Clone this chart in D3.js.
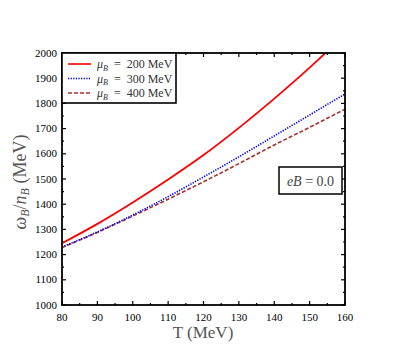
<!DOCTYPE html>
<html><head><meta charset="utf-8">
<script src="https://cdn.jsdelivr.net/npm/d3@7"></script>
<style>body{margin:0;background:#fff}svg{display:block}</style>
</head><body>
<svg id="c" width="407" height="362"></svg>
<script>
const T = [80, 90, 100, 110, 120, 130, 140, 150, 155, 160];
const mu200 = [1245, 1322, 1407, 1498, 1595, 1703, 1819, 1942, 2007, 2075];
const mu300 = [1230, 1290, 1357, 1430, 1508, 1588, 1671, 1754, 1796, 1837];
const mu400 = [1228, 1288, 1353, 1420, 1489, 1561, 1635, 1705, 1741, 1777];
const xTicks = [80, 90, 100, 110, 120, 130, 140, 150, 160];
const yTicks = [1000, 1100, 1200, 1300, 1400, 1500, 1600, 1700, 1800, 1900, 2000];
const seriesNames = ["200", "300", "400"];

const svg = d3.select("#c");
const L = 62, R = 345, Tp = 53, B = 305;
const x = d3.scaleLinear().domain([80, 160]).range([L, R]);
const y = d3.scaleLinear().domain([1000, 2000]).range([B, Tp]);
const font = "'Liberation Serif', 'Times New Roman', serif";

svg.append("clipPath").attr("id", "clip").append("rect")
  .attr("x", L).attr("y", Tp).attr("width", R - L).attr("height", B - Tp);

// ticks
const minorX = d3.range(85, 160, 10);
const minorY = d3.range(1050, 2000, 100);
const tk = svg.append("g").attr("stroke", "#000").attr("stroke-width", 1.2);
xTicks.forEach(v => {
  tk.append("line").attr("x1", x(v)).attr("x2", x(v)).attr("y1", B).attr("y2", B - 4);
  tk.append("line").attr("x1", x(v)).attr("x2", x(v)).attr("y1", Tp).attr("y2", Tp + 4);
});
minorX.forEach(v => {
  tk.append("line").attr("x1", x(v)).attr("x2", x(v)).attr("y1", B).attr("y2", B - 2);
  tk.append("line").attr("x1", x(v)).attr("x2", x(v)).attr("y1", Tp).attr("y2", Tp + 2);
});
yTicks.forEach(v => {
  tk.append("line").attr("x1", L).attr("x2", L + 4).attr("y1", y(v)).attr("y2", y(v));
  tk.append("line").attr("x1", R).attr("x2", R - 4).attr("y1", y(v)).attr("y2", y(v));
});
minorY.forEach(v => {
  tk.append("line").attr("x1", L).attr("x2", L + 2).attr("y1", y(v)).attr("y2", y(v));
  tk.append("line").attr("x1", R).attr("x2", R - 2).attr("y1", y(v)).attr("y2", y(v));
});

// tick labels
svg.append("g").selectAll("text").data(xTicks).join("text")
  .attr("x", d => x(d)).attr("y", 321).attr("text-anchor", "middle")
  .attr("font-family", font).attr("font-size", 11).text(d => d);
svg.append("g").selectAll("text").data(yTicks).join("text")
  .attr("x", 57).attr("y", d => y(d) + 3.5).attr("text-anchor", "end")
  .attr("font-family", font).attr("font-size", 11).text(d => d);

// lines
const line = d3.line().x((d, i) => x(T[i])).y(d => y(d)).curve(d3.curveMonotoneX);
const g = svg.append("g").attr("clip-path", "url(#clip)").attr("fill", "none");
g.append("path").datum(mu400).attr("d", line).attr("stroke", "#a83030").attr("stroke-width", 1.6).attr("stroke-dasharray", "4,2");
g.append("path").datum(mu300).attr("d", line).attr("stroke", "#0000ff").attr("stroke-width", 1.6).attr("stroke-dasharray", "1.3,1.3");
g.append("path").datum(mu200).attr("d", line).attr("stroke", "#ff0000").attr("stroke-width", 1.8);

// frame
svg.append("rect").attr("x", L).attr("y", Tp).attr("width", R - L).attr("height", B - Tp)
  .attr("fill", "none").attr("stroke", "#000").attr("stroke-width", 1.8);

// legend
svg.append("rect").attr("x", L).attr("y", Tp).attr("width", 114).attr("height", 50)
  .attr("fill", "#fff").attr("stroke", "#000").attr("stroke-width", 1.6);
const legStyles = [
  {c: "#ff0000", d: null},
  {c: "#0000ff", d: "1.3,1.3"},
  {c: "#a83030", d: "4,2"}
];
seriesNames.forEach((s, i) => {
  const yy = 64 + i * 14.5;
  const ln = svg.append("line").attr("x1", 68).attr("x2", 91).attr("y1", yy).attr("y2", yy)
    .attr("stroke", legStyles[i].c).attr("stroke-width", 1.6);
  if (legStyles[i].d) ln.attr("stroke-dasharray", legStyles[i].d);
  const t = svg.append("text").attr("x", 97).attr("y", yy + 4)
    .attr("font-family", font).attr("font-size", 12).attr("fill", "#333");
  t.append("tspan").attr("font-style", "italic").text("μ");
  t.append("tspan").attr("font-style", "italic").attr("font-size", 8).attr("dy", 2.5).text("B");
  t.append("tspan").attr("dy", -2.5).text("\u2002=\u2002" + s + " MeV");
});

// eB box
svg.append("rect").attr("x", 279).attr("y", 167).attr("width", 63).attr("height", 27)
  .attr("fill", "#fff").attr("stroke", "#000").attr("stroke-width", 1.5);
const eb = svg.append("text").attr("x", 310.5).attr("y", 185.5).attr("text-anchor", "middle")
  .attr("font-family", font).attr("font-size", 14).attr("fill", "#444");
eb.append("tspan").attr("font-style", "italic").text("eB");
eb.append("tspan").text(" = 0.0");

// axis labels
svg.append("text").attr("x", 203).attr("y", 338).attr("text-anchor", "middle")
  .attr("font-family", font).attr("font-size", 17).attr("fill", "#555").text("T (MeV)");
const yl = svg.append("text").attr("transform", "translate(26,182) rotate(-90)")
  .attr("text-anchor", "middle").attr("font-family", font).attr("font-size", 18).attr("fill", "#555");
yl.append("tspan").attr("font-style", "italic").text("ω");
yl.append("tspan").attr("font-style", "italic").attr("font-size", 12).attr("dy", 3).text("B");
yl.append("tspan").attr("dy", -3).text("/");
yl.append("tspan").attr("font-style", "italic").text("n");
yl.append("tspan").attr("font-style", "italic").attr("font-size", 12).attr("dy", 3).text("B");
yl.append("tspan").attr("dy", -3).text(" (MeV)");
</script>
</body></html>
